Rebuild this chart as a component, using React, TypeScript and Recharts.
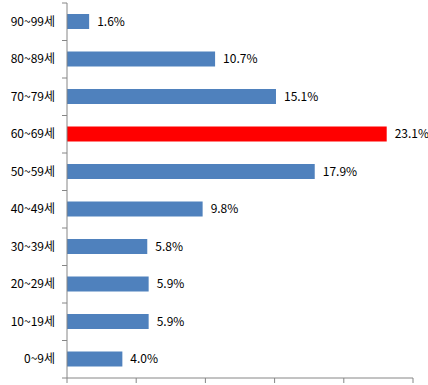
import { Bar, BarChart, Cell, LabelList, XAxis, YAxis } from 'recharts';

const ageGroups = ['90~99세', '80~89세', '70~79세', '60~69세', '50~59세', '40~49세', '30~39세', '20~29세', '10~19세', '0~9세'];
const shares = [1.6, 10.7, 15.1, 23.1, 17.9, 9.8, 5.8, 5.9, 5.9, 4.0];
const highlightGroup = '60~69세';
const xTicks = [0, 5, 10, 15, 20, 25];

const data = ageGroups.map((group, i) => ({ group, share: shares[i] }));

const CHART_W = 428;
const CHART_H = 385;
const MARGIN = { top: 3, right: 15, bottom: 0, left: 0 };
const X_AXIS_H = 7;
const PLOT_H = CHART_H - MARGIN.top - MARGIN.bottom - X_AXIS_H;
const BAND = PLOT_H / ageGroups.length;
const AXIS_COLOR = '#868686';
const FONT = '"Noto Sans CJK KR", "Noto Sans", sans-serif';

const AgeTick = (props: any) => {
  const { x, y, payload, index } = props;
  const last = index === ageGroups.length - 1;
  return (
    <g>
      <line x1={x - 5} x2={x} y1={y - BAND / 2} y2={y - BAND / 2} stroke={AXIS_COLOR} />
      {last && <line x1={x - 5} x2={x} y1={y + BAND / 2} y2={y + BAND / 2} stroke={AXIS_COLOR} />}
      <text x={x - 12} y={y} dy={4} textAnchor="end" fontSize={12} fontFamily={FONT} fill="#000">
        {payload.value}
      </text>
    </g>
  );
};

const ShareTick = (props: any) => {
  const { x, y } = props;
  return <line x1={x} x2={x} y1={y} y2={y + 5} stroke={AXIS_COLOR} />;
};

export default function App() {
  return (
    <div style={{ position: 'absolute', left: 0, top: 0, background: '#fff' }}>
      <BarChart width={CHART_W} height={CHART_H} data={data} layout="vertical" margin={MARGIN}>
        <XAxis
          type="number"
          domain={[0, 25]}
          ticks={xTicks}
          tick={<ShareTick />}
          tickLine={false}
          tickSize={0}
          tickMargin={0}
          interval={0}
          height={X_AXIS_H}
          stroke={AXIS_COLOR}
        />
        <YAxis
          type="category"
          dataKey="group"
          width={67}
          tickLine={false}
          tickSize={0}
          tickMargin={0}
          tick={<AgeTick />}
          interval={0}
          stroke={AXIS_COLOR}
        />
        <Bar dataKey="share" isAnimationActive={false} fill="#4F81BD" barSize={15}>
          {data.map((d) => (
            <Cell key={d.group} fill={d.group === highlightGroup ? '#FF0000' : '#4F81BD'} />
          ))}
          <LabelList
            dataKey="share"
            position="right"
            offset={8}
            formatter={(v: any) => `${Number(v).toFixed(1)}%`}
            style={{ fontSize: 12, fontFamily: FONT, fill: '#000' }}
          />
        </Bar>
      </BarChart>
    </div>
  );
}
